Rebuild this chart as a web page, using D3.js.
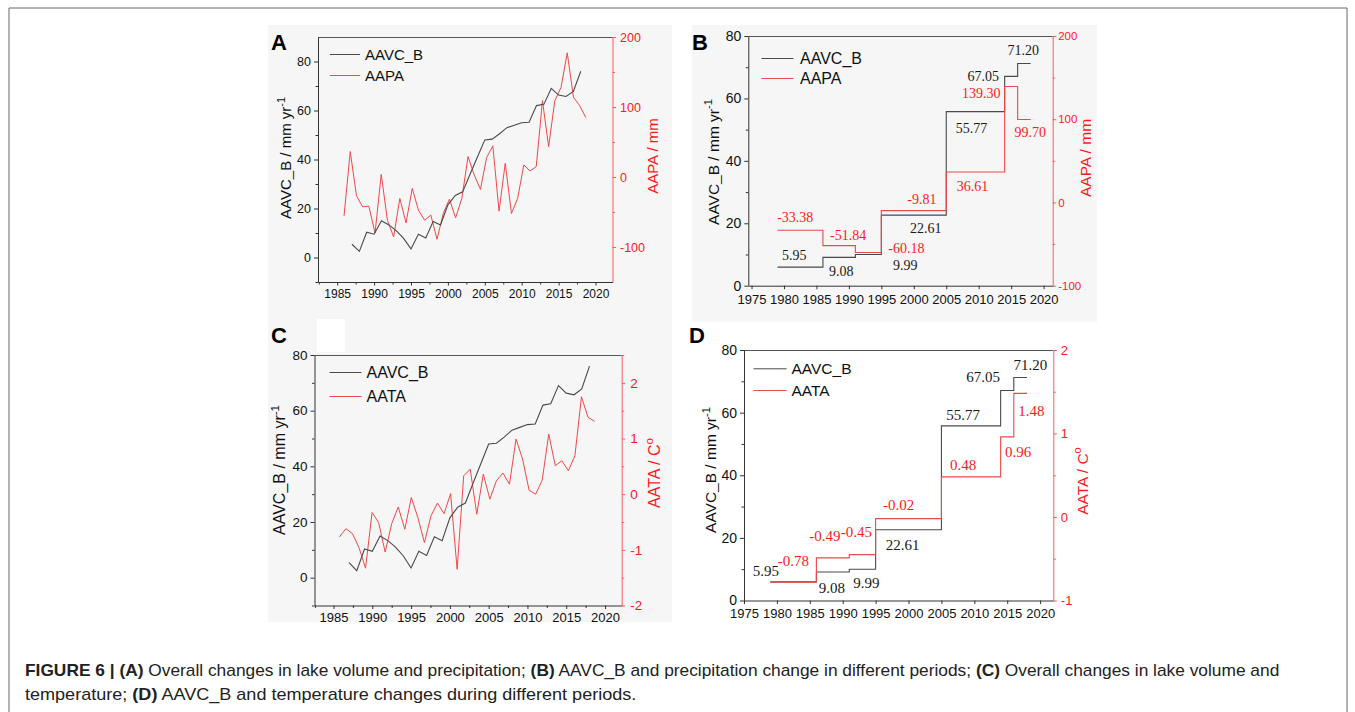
<!DOCTYPE html>
<html><head><meta charset="utf-8">
<script src="https://cdn.jsdelivr.net/npm/d3@7"></script>
<style>body{margin:0;background:#fff}svg{display:block}</style>
</head><body><svg id="fig" width="1355" height="712"></svg>
<script>
// ---------------- DATA ----------------
const aavcYears = [1987,1988,1989,1990,1991,1992,1993,1994,1995,1996,1997,1998,1999,2000,2001,2002,2003,2004,2005,2006,2007,2008,2009,2010,2011,2012,2013,2014,2015,2016,2017,2018];
const aavcB = [5.4,2.5,10.3,9.5,15.0,13.3,11.0,7.8,3.5,9.5,8.0,14.7,13.3,21.5,25.3,26.8,34.0,41.0,48.0,48.3,50.5,53.0,54.0,55.0,55.2,62.0,62.5,69.0,66.3,65.7,67.8,76.0];
const climYears = [1979,1980,1981,1982,1983,1984,1985,1986,1987,1988,1989,1990,1991,1992,1993,1994,1995,1996,1997,1998,1999,2000,2001,2002,2003,2004,2005,2006,2007,2008,2009,2010,2011,2012,2013,2014,2015,2016,2017,2018];
const aapa = [-55.5,36.4,-26.8,-42.6,-41.6,-80,3.8,-62,-85.6,-30.6,-65.6,-16.3,-47.4,-61.7,-54.5,-89,-52.2,-31.6,-58.4,-30.6,29.2,2.9,-17.7,27.8,44.5,-48.8,19.6,-52.2,-30.6,17.2,8.6,14.8,109,43.5,109,128,177.5,114,102,85];
const aata = [-0.77,-0.62,-0.71,-0.96,-1.33,-0.33,-0.51,-1.04,-0.53,-0.23,-0.63,-0.06,-0.42,-0.87,-0.39,-0.16,-0.35,0.01,-1.35,0.33,0.45,-0.36,0.36,-0.09,0.24,0.38,0.18,0.99,0.63,0.07,0.0,0.25,1.08,0.51,0.6,0.42,0.69,1.75,1.38,1.31];
const periodBreaks = [1979,1986,1991,1995,2005,2014,2016,2018];
const aavcPeriod = [5.95,9.08,9.99,22.61,55.77,67.05,71.20];
const aapaPeriod = [-33.38,-51.84,-60.18,-9.81,36.61,139.30,99.70];
const aataPeriod = [-0.78,-0.49,-0.45,-0.02,0.48,0.96,1.48];
const ticksYearA = [1985,1990,1995,2000,2005,2010,2015,2020];
const ticksYearB = [1975,1980,1985,1990,1995,2000,2005,2010,2015,2020];
const ticksAAVC = [0,20,40,60,80];
const ticksAAPA = [-100,0,100,200];
const ticksAATA_C = [-2,-1,0,1,2];
const ticksAATA_D = [-1,0,1,2];

// ---------------- STYLE / LAYOUT ----------------
const SANS = "Liberation Sans, Arial, Helvetica, sans-serif";
const SERIF = "Liberation Serif, 'Times New Roman', serif";
const GRAY = "#4a4a4a", RED_LINE = "#f04848", RED_AXIS = "#ff5a5a", RED_TEXT = "#ff1a1a";
const svg = d3.select("#fig");
const plain = d => String(d);

svg.append("rect").attr("width",1355).attr("height",712).attr("fill","#fff");
// panel backgrounds
svg.append("rect").attr("x",268).attr("y",25).attr("width",404).attr("height",597).attr("fill","#f6f6f6");
svg.append("rect").attr("x",692).attr("y",25).attr("width",405).attr("height",297).attr("fill","#f6f6f6");
svg.append("rect").attr("x",317).attr("y",319).attr("width",28).attr("height",33).attr("fill","#fff");
// outer frame
svg.append("path").attr("d","M9,720 V8 H1347 V720").attr("fill","none").attr("stroke","#666").attr("stroke-width",1);

function styleAxis(sel, color, textColor, fs){
  sel.select(".domain").attr("stroke",color).attr("stroke-width",1);
  sel.selectAll(".tick line").attr("stroke",color).attr("stroke-width",1);
  sel.selectAll(".tick text").attr("fill",textColor).attr("font-family",SANS).attr("font-size",fs);
}
function minorAxis(g, axisFn, scale, vals, color, transform){
  const a = g.append("g").attr("transform",transform)
    .call(axisFn(scale).tickValues(vals).tickSize(2.5).tickSizeOuter(0).tickFormat(()=>""));
  a.select(".domain").remove();
  a.selectAll(".tick line").attr("stroke",color);
}
function mids(arr){ const m=[]; for(let i=0;i<arr.length-1;i++) m.push((arr[i]+arr[i+1])/2); return m; }

function panel(c){
  const g = svg.append("g");
  const x = d3.scaleLinear().domain(c.xDom).range([c.l,c.r]);
  const yL = d3.scaleLinear().domain(c.yLDom).range([c.b,c.t]);
  const yR = d3.scaleLinear().domain(c.yRDom).range([c.b,c.t]);
  // top border
  g.append("line").attr("x1",c.l).attr("x2",c.r).attr("y1",c.t+0.5).attr("y2",c.t+0.5).attr("stroke","#555");
  // bottom axis
  const ax = g.append("g").attr("transform",`translate(0,${c.b})`)
    .call(d3.axisBottom(x).tickValues(c.xTicks).tickSize(3.5).tickSizeOuter(0).tickPadding(c.padX).tickFormat(plain));
  styleAxis(ax,"#333","#111",c.fsX);
  if(c.xMinor) minorAxis(g,d3.axisBottom,x,c.xMinor,"#333",`translate(0,${c.b})`);
  // left axis
  const al = g.append("g").attr("transform",`translate(${c.l},0)`)
    .call(d3.axisLeft(yL).tickValues(c.yLTicks).tickSize(4).tickSizeOuter(0).tickPadding(3).tickFormat(plain));
  styleAxis(al,"#333","#111",c.fsY);
  minorAxis(g,d3.axisLeft,yL,c.yLMinor,"#333",`translate(${c.l},0)`);
  // right axis
  const ar = g.append("g").attr("transform",`translate(${c.r},0)`)
    .call(d3.axisRight(yR).tickValues(c.yRTicks).tickSize(3.5).tickSizeOuter(0).tickPadding(c.padR).tickFormat(plain));
  styleAxis(ar,RED_AXIS,RED_TEXT,c.fsR);
  minorAxis(g,d3.axisRight,yR,c.yRMinor,RED_AXIS,`translate(${c.r},0)`);
  // titles
  const tl = g.append("text").attr("transform",`translate(${c.tL[0]},${c.tL[1]}) rotate(-90)`)
    .attr("text-anchor","middle").attr("font-family",SANS).attr("font-size",c.fsT).attr("fill","#111");
  tl.append("tspan").text("AAVC_B / mm yr");
  tl.append("tspan").attr("font-size",c.fsT*0.72).attr("dy",-c.fsT*0.4).text("-1");
  const tr = g.append("text").attr("transform",`translate(${c.tR[0]},${c.tR[1]}) rotate(-90)`)
    .attr("text-anchor","middle").attr("font-family",SANS).attr("font-size",c.fsT).attr("fill",RED_TEXT);
  tr.append("tspan").text(c.rTitle);
  if(c.rSup) tr.append("tspan").attr("font-size",c.fsT*0.72).attr("dy",-c.fsT*0.4).text(c.rSup);
  // panel letter
  g.append("text").attr("x",c.letterPos[0]).attr("y",c.letterPos[1]).text(c.letter)
    .attr("font-family",SANS).attr("font-weight","bold").attr("font-size",22).attr("fill","#000");
  // legend
  const lg = c.legend;
  [[ "AAVC_B", GRAY, lg.y1 ], [ c.redName, RED_LINE, lg.y2 ]].forEach(([name,col,yy])=>{
    g.append("line").attr("x1",lg.x1).attr("x2",lg.x2).attr("y1",yy).attr("y2",yy).attr("stroke",col).attr("stroke-width",1);
    g.append("text").attr("x",lg.tx).attr("y",yy).attr("dy","0.36em").text(name)
      .attr("font-family",SANS).attr("font-size",lg.fs).attr("fill","#111");
  });
  return {g,x,yL,yR};
}

// ---------- Panel A ----------
const A = panel({l:318,r:612.5,t:37,b:282,xDom:[1982.4,2022.3],yLDom:[-10,90],yRDom:[-150,200],
  xTicks:ticksYearA,xMinor:[1982.5].concat(mids(ticksYearA)),yLTicks:ticksAAVC,yLMinor:[-10,10,30,50,70],
  yRTicks:ticksAAPA,yRMinor:[-50,50,150],fsX:12,fsY:12.5,fsR:12.5,padX:4,padR:4,fsT:15,
  tL:[291,158],tR:[657.5,156],rTitle:"AAPA / mm",letter:"A",letterPos:[271,50],redName:"AAPA",
  legend:{x1:330,x2:360,tx:365,y1:54.5,y2:75.5,fs:15}});
const xA2 = d3.scaleLinear().domain([1974.8,2022.3]).range([318,612.5]);
A.g.append("path").datum(d3.zip(climYears,aapa)).attr("fill","none").attr("stroke",RED_LINE).attr("stroke-width",1)
  .attr("d",d3.line().x(d=>xA2(d[0])).y(d=>A.yR(d[1])));
A.g.append("path").datum(d3.zip(aavcYears,aavcB)).attr("fill","none").attr("stroke",GRAY).attr("stroke-width",1.1)
  .attr("d",d3.line().x(d=>A.x(d[0])).y(d=>A.yL(d[1])));

// ---------- Panel C ----------
const C = panel({l:314.5,r:621.7,t:355,b:605.5,xDom:[1982.55,2022.15],yLDom:[-10,80],yRDom:[-2,2.5],
  xTicks:ticksYearA,xMinor:[1982.6].concat(mids(ticksYearA)),yLTicks:ticksAAVC,yLMinor:[-10,10,30,50,70],
  yRTicks:ticksAATA_C,yRMinor:[-1.5,-0.5,0.5,1.5,2.5],fsX:13,fsY:13.5,fsR:13.5,padX:4,padR:5,fsT:16,
  tL:[285,470],tR:[659.5,473],rTitle:"AATA / C",rSup:"o",letter:"C",letterPos:[271,343],redName:"AATA",
  legend:{x1:329.5,x2:361.5,tx:366.5,y1:372.5,y2:396.5,fs:16}});
const xC2 = d3.scaleLinear().domain([1975.2,2022.15]).range([314.5,621.7]);
C.g.append("path").datum(d3.zip(climYears,aata)).attr("fill","none").attr("stroke",RED_LINE).attr("stroke-width",1)
  .attr("d",d3.line().x(d=>xC2(d[0])).y(d=>C.yR(d[1])));
C.g.append("path").datum(d3.zip(aavcYears,aavcB)).attr("fill","none").attr("stroke",GRAY).attr("stroke-width",1.1)
  .attr("d",d3.line().x(d=>C.x(d[0])).y(d=>C.yL(d[1])));

// ---------- step panels ----------
function stepPts(vals){ const p = vals.map((v,i)=>[periodBreaks[i],v]); p.push([periodBreaks[periodBreaks.length-1],vals[vals.length-1]]); return p; }
function stepPanel(P, grayVals, redVals, grayOff, redOff, fs){
  P.g.append("path").datum(stepPts(grayVals)).attr("fill","none").attr("stroke",GRAY).attr("stroke-width",1.1)
    .attr("d",d3.line().curve(d3.curveStepAfter).x(d=>P.x(d[0])).y(d=>P.yL(d[1])));
  P.g.append("path").datum(stepPts(redVals)).attr("fill","none").attr("stroke",RED_LINE).attr("stroke-width",1.1)
    .attr("d",d3.line().curve(d3.curveStepAfter).x(d=>P.x(d[0])).y(d=>P.yR(d[1])));
  grayVals.forEach((v,i)=>{
    const mx = (periodBreaks[i]+periodBreaks[i+1])/2;
    P.g.append("text").attr("x",P.x(mx)+grayOff[i][0]).attr("y",P.yL(v)+grayOff[i][1]).attr("dy","0.35em")
      .attr("text-anchor","middle").attr("font-family",SERIF).attr("font-size",fs).attr("fill","#1a1a1a").text(v.toFixed(2));
  });
  redVals.forEach((v,i)=>{
    const mx = (periodBreaks[i]+periodBreaks[i+1])/2;
    P.g.append("text").attr("x",P.x(mx)+redOff[i][0]).attr("y",P.yR(v)+redOff[i][1]).attr("dy","0.35em")
      .attr("text-anchor","middle").attr("font-family",SERIF).attr("font-size",fs).attr("fill",RED_TEXT).text(v.toFixed(2));
  });
}

// ---------- Panel B ----------
const B = panel({l:748.3,r:1052.7,t:36,b:285.7,xDom:[1974.5,2021.4],yLDom:[0,80],yRDom:[-100,200],
  xTicks:ticksYearB,xMinor:null,yLTicks:ticksAAVC,yLMinor:[10,30,50,70],
  yRTicks:ticksAAPA,yRMinor:[-50,50,150],fsX:13,fsY:14,fsR:11.5,padX:6,padR:2,fsT:15.5,
  tL:[718.5,162],tR:[1090.5,158],rTitle:"AAPA / mm",letter:"B",letterPos:[692,50],redName:"AAPA",
  legend:{x1:761.5,x2:793.5,tx:800,y1:58.5,y2:78.5,fs:16}});
stepPanel(B, aavcPeriod, aapaPeriod,
  [[-6,-12],[2,14],[37,11],[12,13],[-4,16],[-28,0],[-1,-13.5]],
  [[-5,-13.6],[9,-11],[38,-4],[8,-12],[-3,14],[-30,7],[6,13]], 14);

// ---------- Panel D ----------
const D = panel({l:744,r:1053.3,t:350,b:600.5,xDom:[1975,2022],yLDom:[0,80],yRDom:[-1,2],
  xTicks:ticksYearB,xMinor:null,yLTicks:ticksAAVC,yLMinor:[10,30,50,70],
  yRTicks:ticksAATA_D,yRMinor:[-0.5,0.5,1.5],fsX:13,fsY:14,fsR:13,padX:5,padR:4,fsT:15.5,
  tL:[716,470],tR:[1087.5,481],rTitle:"AATA / C",rSup:"o",letter:"D",letterPos:[689,343],redName:"AATA",
  legend:{x1:753.5,x2:786.5,tx:791.5,y1:368.8,y2:390.5,fs:15.5}});
stepPanel(D, aavcPeriod, aataPeriod,
  [[-27.6,-11],[-1,16],[4,14],[-6,15],[-8,-11],[-24,-14],[10,-12.6]],
  [[0,-21],[-8,-22],[-6,-23],[-10,-14],[-8,-12.6],[11,15],[11,17]], 15);

// ---------- Caption ----------
function captionLine(parts, y, targetW){
  const t = svg.append("text").attr("x",0).attr("y",0).attr("font-family",SANS).attr("font-size",16).attr("fill","#222");
  parts.forEach(([s,b])=>t.append("tspan").attr("font-weight",b?"bold":"normal").text(s));
  const w = t.node().getComputedTextLength();
  t.attr("transform",`translate(25,${y}) scale(${targetW/w},1)`);
}
captionLine([["FIGURE 6 | (A)",1],[" Overall changes in lake volume and precipitation; ",0],["(B)",1],
  [" AAVC_B and precipitation change in different periods; ",0],["(C)",1],[" Overall changes in lake volume and",0]],676,1255);
captionLine([["temperature; ",0],["(D)",1],[" AAVC_B and temperature changes during different periods.",0]],700,612);
</script></body></html>
